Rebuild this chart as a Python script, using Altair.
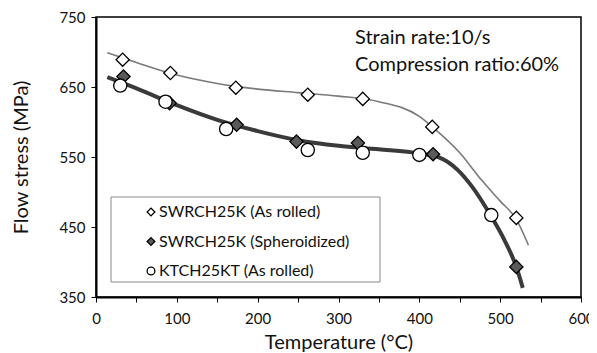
import altair as alt
import pandas as pd

# Measured points
series_names = ["SWRCH25K (As rolled)", "SWRCH25K (Spheroidized)", "KTCH25KT (As rolled)"]
temp_asrolled = [33, 92, 173, 262, 330, 416, 520]
stress_asrolled = [689, 670, 649, 639, 633, 593, 463]
temp_sph = [34, 91, 174, 248, 324, 417, 520]
stress_sph = [665, 627, 596, 572, 570, 554, 393]
temp_kt = [30, 86, 161, 262, 330, 400, 489]
stress_kt = [652, 629, 590, 560, 556, 553, 467]

# Trend curves
trend_thin_t = [14, 50, 100, 150, 200, 250, 300, 350, 400, 416, 450, 477, 500, 520, 535]
trend_thin_s = [699, 685, 667, 655, 647, 642, 637, 629, 608, 593, 556, 517, 487, 461, 424]
trend_thick_t = [14, 50, 100, 150, 200, 250, 300, 350, 400, 425, 447, 465, 488, 505, 520, 528]
trend_thick_s = [664, 648, 624, 603, 587, 574, 566, 561, 555, 549, 532, 508, 467, 432, 393, 363]

annotation = ["Strain rate:10/s", "Compression ratio:60%"]

FONT = "Lato"

pts = pd.concat([
    pd.DataFrame({"T": temp_asrolled, "S": stress_asrolled, "series": series_names[0], "ord": 0}),
    pd.DataFrame({"T": temp_sph, "S": stress_sph, "series": series_names[1], "ord": 1}),
    pd.DataFrame({"T": temp_kt, "S": stress_kt, "series": series_names[2], "ord": 2}),
])
thin = pd.DataFrame({"T": trend_thin_t, "S": trend_thin_s})
thick = pd.DataFrame({"T": trend_thick_t, "S": trend_thick_s})

xscale = alt.Scale(domain=[0, 600], nice=False)
yscale = alt.Scale(domain=[350, 750], nice=False)

xaxis = alt.Axis(
    title="Temperature (°C)", values=list(range(0, 601, 50)),
    labelExpr="datum.value % 100 == 0 ? datum.label : ''",
    labelFlush=False,
    grid=False, domainColor="black", domainWidth=2, tickColor="black",
    tickSize=5, labelFontSize=15, labelColor="#111", labelFont=FONT,
    titleFont=FONT, titleFontSize=20, titleFontWeight="normal", titleColor="#111",
    labelPadding=9, titlePadding=6,
)
yaxis = alt.Axis(
    title="Flow stress (MPa)", values=list(range(350, 751, 50)),
    labelExpr="datum.value % 100 == 50 ? datum.label : ''",
    labelFlush=False,
    grid=False, domainColor="black", domainWidth=2, tickColor="black",
    tickSize=5, labelFontSize=15, labelColor="#111", labelFont=FONT,
    titleFont=FONT, titleFontSize=20, titleFontWeight="normal", titleColor="#111",
    labelPadding=6, titlePadding=27,
)

base_x = alt.X("T:Q", scale=xscale, axis=xaxis)
base_y = alt.Y("S:Q", scale=yscale, axis=yaxis)

frame = alt.Chart(pd.DataFrame({"a": [0]})).mark_rect(
    fill="transparent", stroke="#8a8a8a", strokeWidth=1
).encode(x=alt.value(15), x2=alt.value(284), y=alt.value(180), y2=alt.value(265))

thin_line = alt.Chart(thin).mark_line(color="#7a7a7a", strokeWidth=1.6, interpolate="monotone").encode(
    x=base_x, y=base_y)
thick_line = alt.Chart(thick).mark_line(color="#3a3a3a", strokeWidth=4, interpolate="monotone").encode(
    x=alt.X("T:Q", scale=xscale), y=alt.Y("S:Q", scale=yscale))

leg = alt.Legend(title=None, orient="none", legendX=47, legendY=187,
                 labelFont=FONT, labelFontSize=16, labelColor="#111", labelLimit=400,
                 symbolSize=60, symbolStrokeWidth=1.3, symbolStrokeColor="black",
                 rowPadding=13.5, labelOffset=0, padding=0, zindex=2)

points = alt.Chart(pts).mark_point(filled=True, strokeWidth=1.3, opacity=1).encode(
    x=alt.X("T:Q", scale=xscale),
    y=alt.Y("S:Q", scale=yscale),
    shape=alt.Shape("series:N", scale=alt.Scale(domain=series_names, range=["diamond", "diamond", "circle"]),
                    legend=leg),
    fill=alt.Fill("series:N", scale=alt.Scale(domain=series_names, range=["white", "#5a5a5a", "white"]),
                  legend=leg),
    stroke=alt.Stroke("series:N", scale=alt.Scale(domain=series_names, range=["black", "black", "black"]),
                      legend=leg),
    order=alt.Order("ord:Q"),
)

ann = alt.Chart(pd.DataFrame({"t": [annotation]})).mark_text(
    align="left", baseline="top", font=FONT, fontSize=20, color="#111", lineHeight=27
).encode(x=alt.value(259), y=alt.value(11), text="t")

chart = alt.layer(frame, thin_line, thick_line, points, ann).properties(
    width=485, height=280,
    padding={"left": 88, "top": 9, "right": 8, "bottom": 56},
    autosize=alt.AutoSizeParams(type="none"),
).configure_view(stroke="black", strokeWidth=1.5).configure_point(size=175)

chart.save("out.html", embed_options={"renderer": "svg", "actions": False})
